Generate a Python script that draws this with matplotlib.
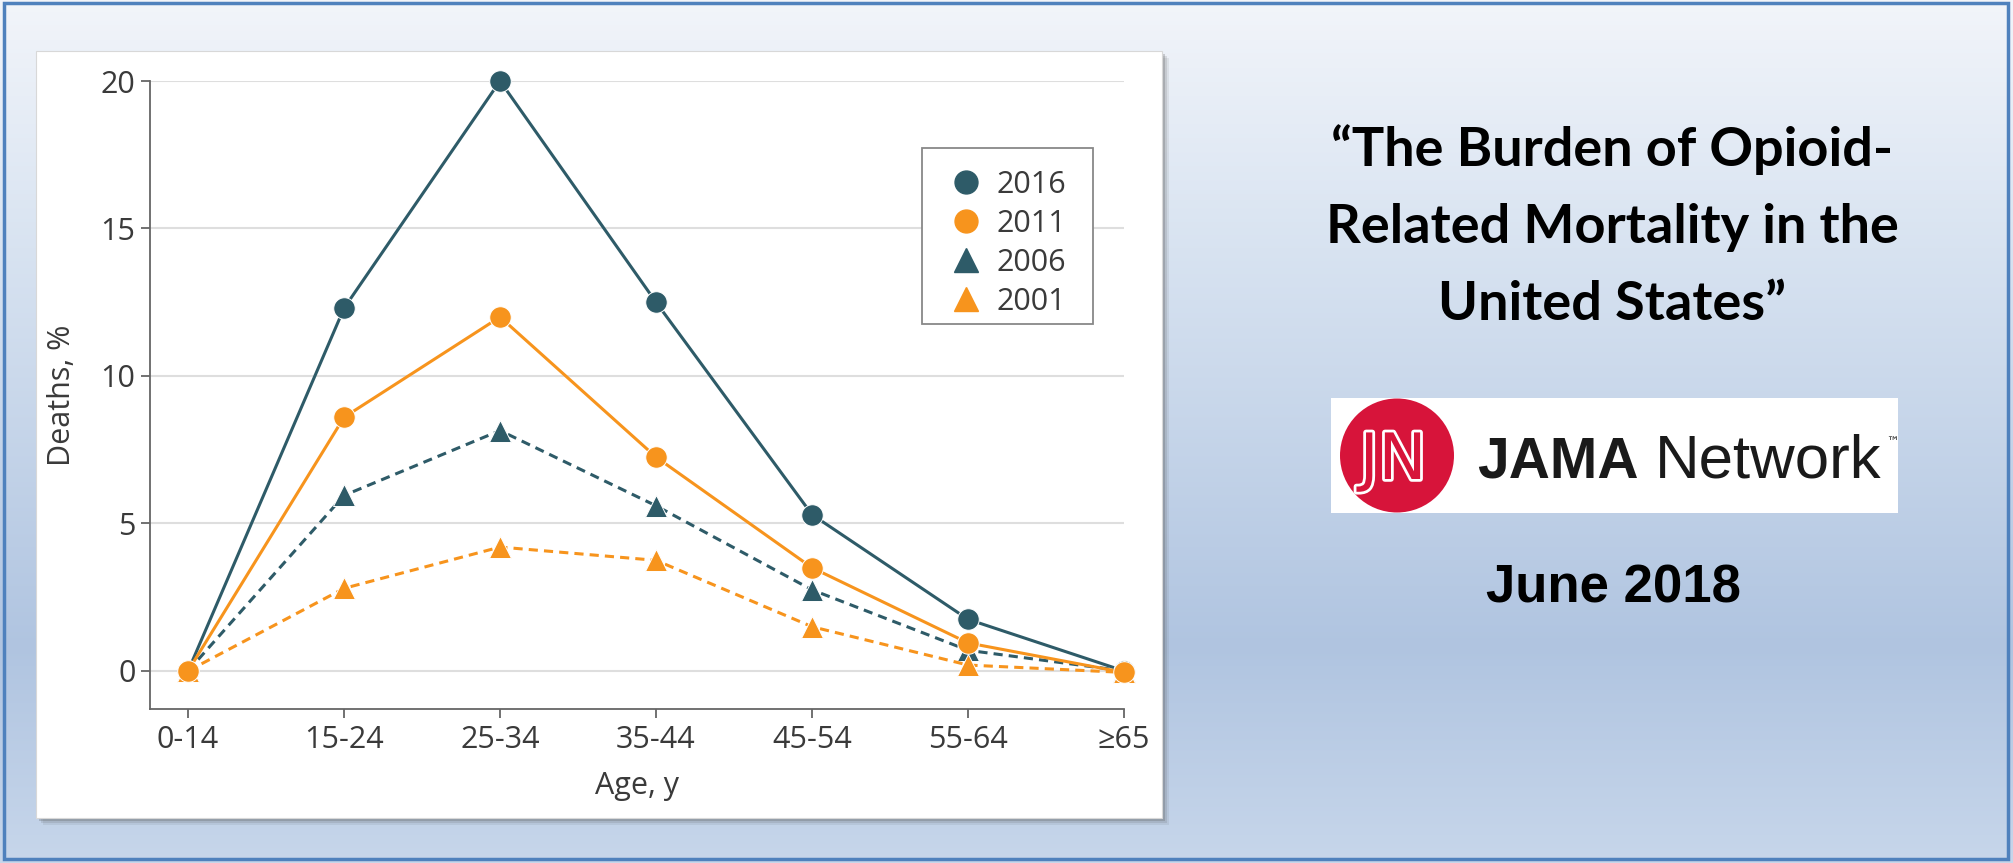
import numpy as np
import matplotlib.pyplot as plt
from matplotlib.patches import Rectangle, Circle
from matplotlib.lines import Line2D
import matplotlib.patheffects as pe

# --- data ---
age_groups = ['0-14', '15-24', '25-34', '35-44', '45-54', '55-64', '≥65']
deaths_2016 = [0, 12.3, 20.0, 12.5, 5.3, 1.75, 0]
deaths_2011 = [0, 8.6, 12.0, 7.25, 3.5, 0.95, -0.05]
deaths_2006 = [0, 5.95, 8.15, 5.6, 2.75, 0.7, 0]
deaths_2001 = [0, 2.8, 4.2, 3.75, 1.5, 0.2, -0.05]
y_ticks = [0, 5, 10, 15, 20]
legend_labels = ['2016', '2011', '2006', '2001']

title_lines = ['\u201cThe Burden of Opioid-', 'Related Mortality in the', 'United States\u201d']
date_text = 'June 2018'

TEAL = '#2e5b68'
ORANGE = '#f7941d'
TXT = '#3a3a3a'
CHART_FONT = ['Open Sans', 'DejaVu Sans']
FS = 22

W, H = 2013, 863
fig = plt.figure(figsize=(W / 100, H / 100), dpi=100)

# --- slide background, drawn in pixel coordinates ---
bg = fig.add_axes([0, 0, 1, 1])
bg.set_xlim(0, W)
bg.set_ylim(H, 0)
bg.axis('off')

stops = np.array([0.0, 0.25, 0.75, 1.0])
cols = np.array([[0.95, 0.96, 0.98],
                 [0.86, 0.90, 0.95],
                 [0.69, 0.77, 0.88],
                 [0.78, 0.84, 0.92]])
t = np.linspace(0, 1, 400)
grad = np.stack([np.interp(t, stops, cols[:, i]) for i in range(3)], axis=1)
bg.imshow(grad[:, None, :], extent=(0, W, H, 0), aspect='auto', zorder=0)
bg.add_patch(Rectangle((4, 3), W - 9, H - 7, fill=False, edgecolor='#4f81bd', lw=2.5, zorder=5))

# white panel with a soft shadow
for off, a in [(7, 0.10), (5, 0.15), (3, 0.25)]:
    bg.add_patch(Rectangle((36 + off, 51 + off), 1126, 767, color='#555555', alpha=a, lw=0, zorder=1))
bg.add_patch(Rectangle((36, 51), 1126, 767, facecolor='white', edgecolor='#d8d8d8', lw=0.8, zorder=2))

# title
for i, line in enumerate(title_lines):
    bg.text(1612, 150 + i * 77, line, ha='center', va='center', fontsize=39,
            fontweight='bold', family='Lato', color='black', zorder=3)

# JAMA Network logo
bg.add_patch(Rectangle((1331, 398), 567, 115, facecolor='white', lw=0, zorder=3))
bg.add_patch(Circle((1397, 455.5), 57, facecolor='#d7143a', lw=0, zorder=4))
bg.text(1393, 479, 'JN', ha='center', va='baseline', fontsize=46, family='DejaVu Sans',
        color='#d7143a', zorder=5,
        path_effects=[pe.withStroke(linewidth=4, foreground='white')])
bg.text(1477, 477, 'JAMA', ha='left', va='baseline', fontsize=41, fontweight='bold',
        family='Liberation Sans', color='#1a1a1a', zorder=5)
bg.text(1655, 477, 'Network', ha='left', va='baseline', fontsize=44.5,
        family='Liberation Sans', color='#1a1a1a', zorder=5)
bg.text(1886, 446, '™', ha='left', va='baseline', fontsize=9,
        family='DejaVu Sans', color='#1a1a1a', zorder=5)

bg.text(1614, 588, date_text, ha='center', va='center', fontsize=38, fontweight='bold',
        family='Liberation Sans', color='black', zorder=3)

# --- the chart ---
ax = fig.add_axes([150 / W, (H - 709) / H, (1124 - 150) / W, (709 - 81) / H])
ax.patch.set_alpha(0)
x = np.arange(len(age_groups))

line_kw = dict(lw=2.2, markersize=15.5, markeredgecolor='white', markeredgewidth=0.7, clip_on=False)
ax.plot(x, deaths_2016, color=TEAL, marker='o', ls='-', zorder=4, **line_kw)
ax.plot(x, deaths_2006, color=TEAL, marker='^', ls=(0, (3, 2)), zorder=4, **line_kw)
ax.plot(x, deaths_2001, color=ORANGE, marker='^', ls=(0, (3, 2)), zorder=4, **line_kw)
ax.plot(x, deaths_2011, color=ORANGE, marker='o', ls='-', zorder=5, **line_kw)

ax.set_xlim(-0.244, 6.0)
ax.set_ylim(-1.29, 20)
ax.set_xticks(x, age_groups)
ax.set_yticks(y_ticks)
ax.yaxis.grid(True, color='#dedede', lw=1.5, zorder=0)
ax.set_axisbelow(True)
for s in ['top', 'right']:
    ax.spines[s].set_visible(False)
for s in ['left', 'bottom']:
    ax.spines[s].set_color('#666666')
    ax.spines[s].set_linewidth(1.3)
ax.tick_params(direction='out', length=6.5, width=1.3, color='#666666', labelsize=FS,
               labelcolor=TXT)
ax.tick_params(axis='x', pad=5)
ax.tick_params(axis='y', pad=4)
for lab in ax.get_xticklabels() + ax.get_yticklabels():
    lab.set_family(CHART_FONT)

ax.set_xlabel('Age, y', fontsize=FS, color=TXT, family=CHART_FONT)
ax.set_ylabel('Deaths, %', fontsize=FS, color=TXT, family=CHART_FONT)
ax.xaxis.set_label_coords(0.5, -0.099)
ax.yaxis.set_label_coords(-0.075, 0.5)

# legend: own frame box, markers only
ax.add_patch(Rectangle((922, 148), 171, 176, transform=bg.transData, facecolor='white',
                       edgecolor='#888888', lw=1.3, zorder=6, clip_on=False))
handles = [
    Line2D([], [], color=TEAL, marker='o', ls='none', markersize=16.5),
    Line2D([], [], color=ORANGE, marker='o', ls='none', markersize=16.5),
    Line2D([], [], color=TEAL, marker='^', ls='none', markersize=17.5),
    Line2D([], [], color=ORANGE, marker='^', ls='none', markersize=17.5),
]
leg = ax.legend(handles, legend_labels, loc='upper left', bbox_to_anchor=(952, 170),
                bbox_transform=bg.transData, borderaxespad=0, borderpad=0, frameon=False,
                prop={'family': CHART_FONT, 'size': FS},
                labelspacing=0.29, handletextpad=0.5, handlelength=0.94)
leg.set_zorder(7)
for txt in leg.get_texts():
    txt.set_color(TXT)

fig.savefig('out.png', dpi=100)
